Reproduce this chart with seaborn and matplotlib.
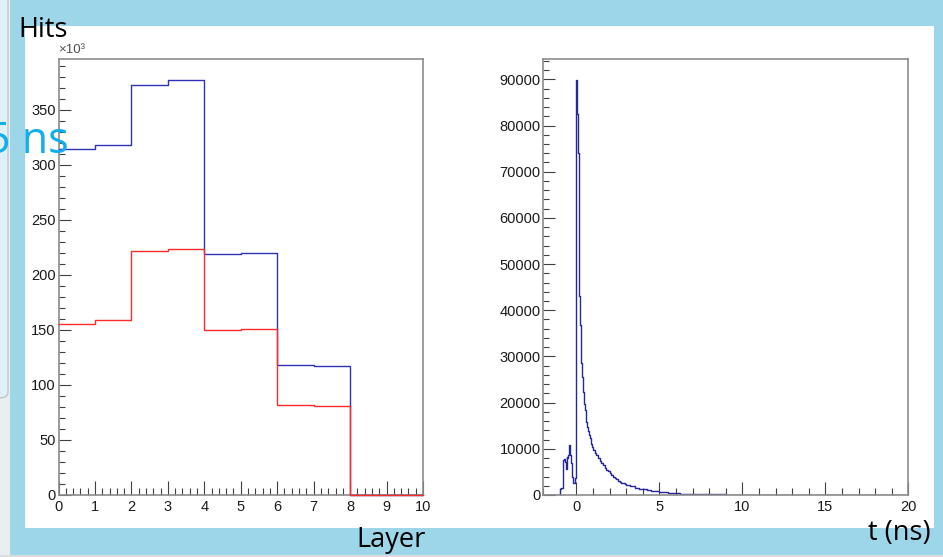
import numpy as np
import matplotlib
matplotlib.use("Agg")
import matplotlib.pyplot as plt
from matplotlib.patches import Rectangle, FancyBboxPatch
from matplotlib.ticker import MultipleLocator, FuncFormatter
import seaborn as sns

# ---------------- data ----------------
layer_edges = [0, 1, 2, 3, 4, 5, 6, 7, 8, 9, 10]
hits_blue = [314000, 318000, 372000, 376500, 218500, 219500, 118500, 117000, 0, 0]
hits_red = [155000, 158500, 221500, 223000, 149500, 150500, 81500, 80500, 0, 0]

# time histogram bin edges (ns)
t_edges = ([-2.0]
           + list(np.round(np.arange(-1.0, 1.0, 0.05), 2))
           + list(np.round(np.arange(1.0, 3.0, 0.1), 2))
           + list(np.round(np.arange(3.0, 12.0, 0.25), 2))
           + [12.0, 20.0])
t_counts = ([0]
            # -1.00 .. 0.95 (0.05 ns)
            + [1400, 1450, 1500, 1450, 7600, 7800, 7200, 5700, 8200, 8100,
               8600, 10800, 8700, 7000, 5200, 3800, 2700, 2500, 3700, 6500,
               89800, 82500, 74000, 43000, 36800, 33500, 28500, 25600, 22400, 19800,
               18400, 17000, 15900, 14800, 13800, 13000, 12300, 11700, 11000, 10400]
            # 1.0 .. 2.9 (0.1 ns)
            + [9800, 9200, 8600, 8000, 7400, 6900, 6400, 5900, 5500, 5100,
               4700, 4400, 4000, 3700, 3400, 3100, 2900, 2700, 2500, 2300]
            # 3.00 .. 11.75 (0.25 ns)
            + [2100, 1850, 1600, 1400, 1200, 1050, 900, 780, 680, 580,
               500, 420, 380, 300, 280, 220, 240, 190, 210, 160,
               180, 150, 170, 140, 0, 80, 0, 0, 0, 0,
               0, 0, 0, 0, 80, 0]
            + [0])

BLUE_L = "#3030b8"
BLUE_R = "#25259c"
RED = "#ff2b2b"
SLIDE_BLUE = "#9dd5e9"
CYAN = "#10aeea"

sns.set_theme(style="white")
plt.rcParams["font.family"] = ["Liberation Sans", "DejaVu Sans"]

fig = plt.figure(figsize=(9.43, 5.57), dpi=100)
fig.patch.set_facecolor(SLIDE_BLUE)
W, H = 943.0, 557.0

def fx(x):
    return x / W

def fy(y):
    return 1 - y / H

# slide decorations (behind the axes)
fig.patches.append(Rectangle((fx(25), fy(528)), fx(934) - fx(25), fy(26) - fy(528),
                             transform=fig.transFigure, facecolor="white",
                             edgecolor="none", zorder=-5))
fig.patches.append(Rectangle((0, 0), fx(10), 1, transform=fig.transFigure,
                             facecolor="#e9eef0", edgecolor="none", zorder=-5))
fig.patches.append(FancyBboxPatch((fx(-20), fy(398)), fx(28), fy(-10) - fy(398),
                                  boxstyle="round,pad=0,rounding_size=0.01",
                                  transform=fig.transFigure, facecolor="#dff1f8",
                                  edgecolor="#c4c4c4", linewidth=1.0, zorder=-5))
fig.patches.append(Rectangle((0, 0), 1, fy(555), transform=fig.transFigure,
                             facecolor="#dcdcdc", edgecolor="none", zorder=-5))

axL = fig.add_axes([fx(58.5), fy(495), fx(423) - fx(58.5), fy(59) - fy(495)])
axR = fig.add_axes([fx(543.3), fy(495), fx(908.3) - fx(543.3), fy(59) - fy(495)])
axL.set_zorder(1)
axR.set_zorder(1)

lc = [(a + b) / 2 for a, b in zip(layer_edges[:-1], layer_edges[1:])]
sns.histplot(x=lc, weights=hits_blue, bins=layer_edges, element="step", fill=False,
             color=BLUE_L, linewidth=1.0, ax=axL)
sns.histplot(x=lc, weights=hits_red, bins=layer_edges, element="step", fill=False,
             color=RED, linewidth=1.0, ax=axL)

tc = [(a + b) / 2 for a, b in zip(t_edges[:-1], t_edges[1:])]
sns.histplot(x=tc, weights=t_counts, bins=t_edges, element="step", fill=False,
             color=BLUE_R, linewidth=1.0, ax=axR)

for ax in (axL, axR):
    ax.set_facecolor("white")
    ax.set_xlabel("")
    ax.set_ylabel("")
    for s in ax.spines.values():
        s.set_visible(True)
        s.set_color("#8c8c8c")
        s.set_linewidth(1.2)
    ax.tick_params(which="both", direction="in", colors="#404040", width=0.8,
                   labelcolor="#1a1a1a", labelsize=10.5, top=False, right=False,
                   bottom=True, left=True)
    ax.tick_params(axis="y", pad=2)
    ax.tick_params(axis="x", pad=3.5)

# left histogram lines sit on top of the frame (red runs along the baseline)
for ln in axL.lines:
    ln.set_clip_on(False)
    ln.set_zorder(4)
# right histogram: baseline segments hide behind the frame
for ln in axR.lines:
    ln.set_zorder(2)

axL.set_xlim(0, 10)
axL.set_ylim(0, 396000)
axL.xaxis.set_major_locator(MultipleLocator(1))
axL.xaxis.set_minor_locator(MultipleLocator(0.2))
axL.yaxis.set_major_locator(MultipleLocator(50000))
axL.yaxis.set_minor_locator(MultipleLocator(10000))
axL.yaxis.set_major_formatter(FuncFormatter(lambda v, p: f"{v/1000:.0f}"))
axL.tick_params(axis="x", which="major", length=10)
axL.tick_params(axis="x", which="minor", length=5)
axL.tick_params(axis="y", which="major", length=8.6)
axL.tick_params(axis="y", which="minor", length=4.3)
axL.text(0.0, 1.006, "×10³", transform=axL.transAxes, ha="left", va="bottom",
         fontsize=9.5, color="#505050")

axR.set_xlim(-2, 20)
axR.set_ylim(0, 94400)
axR.xaxis.set_major_locator(MultipleLocator(5))
axR.xaxis.set_minor_locator(MultipleLocator(1))
axR.yaxis.set_major_locator(MultipleLocator(10000))
axR.yaxis.set_minor_locator(MultipleLocator(2000))
axR.yaxis.set_major_formatter(FuncFormatter(lambda v, p: f"{v:.0f}"))
axR.tick_params(axis="x", which="major", length=9.5)
axR.tick_params(axis="x", which="minor", length=5)
axR.tick_params(axis="y", which="major", length=8.4)
axR.tick_params(axis="y", which="minor", length=4.3)

slide_font = ["Open Sans", "DejaVu Sans"]
fig.text(fx(18), fy(36.7), "Hits", family=slide_font, fontsize=19.5,
         color="black", ha="left", va="baseline", zorder=10)
fig.text(fx(356.7), fy(546.7), "Layer", family=slide_font, fontsize=19.5,
         color="black", ha="left", va="baseline", zorder=10)
fig.text(fx(868), fy(540), "t (ns)", family=slide_font, fontsize=19.5,
         color="black", ha="left", va="baseline", zorder=10)
fig.text(fx(69), fy(152.7), "5 ns", family=slide_font, fontsize=31,
         color=CYAN, ha="right", va="baseline", zorder=10)

fig.savefig("out.png", dpi=100, facecolor=fig.get_facecolor())
